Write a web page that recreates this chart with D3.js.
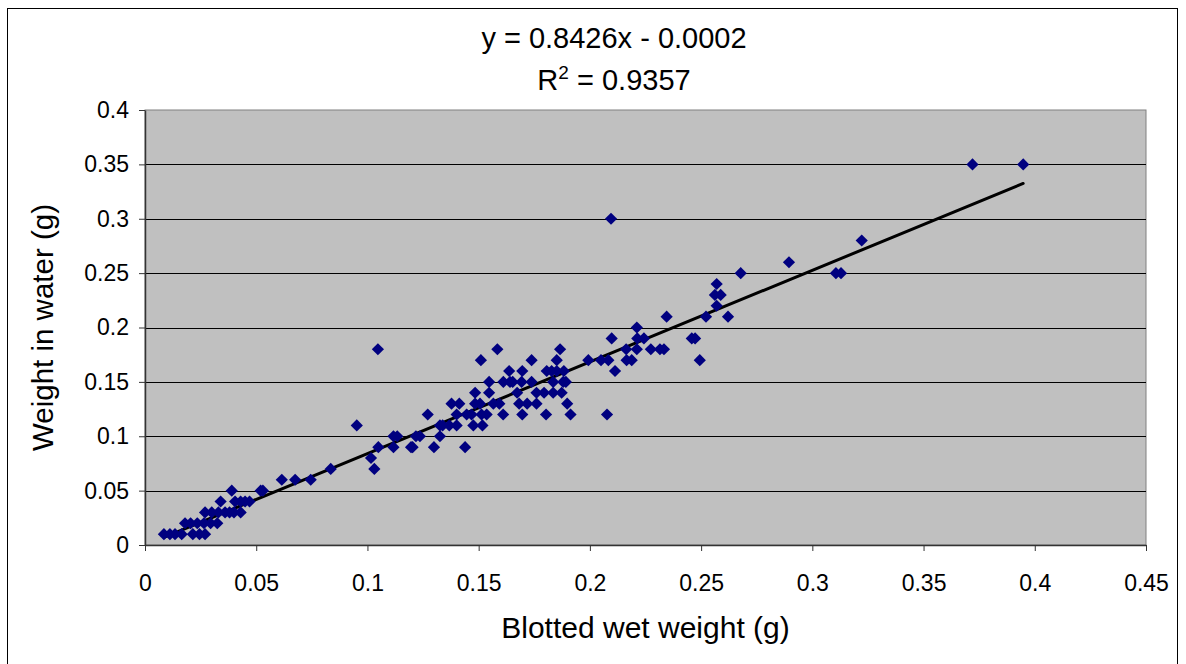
<!DOCTYPE html>
<html>
<head>
<meta charset="utf-8">
<script src="https://cdn.jsdelivr.net/npm/d3@7"></script>
<style>
  html, body { margin: 0; padding: 0; background: #ffffff; }
  svg { display: block; font-family: "Liberation Sans", Arial, sans-serif; }
</style>
</head>
<body>
<svg id="chart" width="1186" height="664"></svg>
<script>
// Data: blotted wet weight (g) and weight in water (g)
const blottedWet = [
  0.0085, 0.0112, 0.0135, 0.0165, 0.0215, 0.0245, 0.027,
  0.018, 0.0205, 0.0235, 0.0265, 0.0295, 0.0325,
  0.027, 0.030, 0.033, 0.036, 0.038, 0.040, 0.043,
  0.034, 0.0405, 0.043, 0.045, 0.047,
  0.039, 0.052, 0.053,
  0.0615, 0.0675, 0.0745,
  0.0835, 0.1031,
  0.1016,
  0.1049, 0.1117, 0.1196, 0.1203, 0.1299, 0.1439,
  0.1117, 0.1134, 0.1218, 0.1236, 0.1326,
  0.0952, 0.1326, 0.1338, 0.1368, 0.1401, 0.1476, 0.1517,
  0.1271, 0.1401, 0.1446, 0.1468, 0.1513, 0.1536, 0.161, 0.1696, 0.1803, 0.1913, 0.2077,
  0.1378, 0.1413, 0.1484, 0.1506, 0.1566, 0.1593, 0.1682, 0.1718, 0.176, 0.1898,
  0.1484, 0.1547, 0.1673, 0.176, 0.1794, 0.1835, 0.1873,
  0.1547, 0.1611, 0.1641, 0.1653, 0.1693, 0.1738, 0.1835, 0.188, 0.1892,
  0.1637, 0.1696, 0.1806, 0.1828, 0.1851, 0.1883, 0.2113,
  0.151, 0.1738, 0.1851, 0.1993, 0.205, 0.2083, 0.2165, 0.2188, 0.2494,
  0.1047, 0.1584, 0.1866, 0.2163, 0.2211, 0.2274, 0.2315, 0.2333,
  0.2098, 0.2213, 0.2243, 0.2458, 0.2473,
  0.2211,
  0.2345, 0.2522, 0.2621,
  0.257,
  0.2562, 0.2588,
  0.257,
  0.2678, 0.3106, 0.3129,
  0.2895,
  0.3222,
  0.2095,
  0.372, 0.3948
];
const weightInWater = [
  0.01, 0.01, 0.01, 0.01, 0.01, 0.01, 0.01,
  0.02, 0.02, 0.02, 0.02, 0.02, 0.02,
  0.03, 0.03, 0.03, 0.03, 0.03, 0.03, 0.03,
  0.04, 0.04, 0.04, 0.04, 0.04,
  0.05, 0.05, 0.05,
  0.06, 0.06, 0.06,
  0.07, 0.07,
  0.08,
  0.09, 0.09, 0.09, 0.09, 0.09, 0.09,
  0.10, 0.10, 0.10, 0.10, 0.10,
  0.11, 0.11, 0.11, 0.11, 0.11, 0.11, 0.11,
  0.12, 0.12, 0.12, 0.12, 0.12, 0.12, 0.12, 0.12, 0.12, 0.12, 0.12,
  0.13, 0.13, 0.13, 0.13, 0.13, 0.13, 0.13, 0.13, 0.13, 0.13,
  0.14, 0.14, 0.14, 0.14, 0.14, 0.14, 0.14,
  0.15, 0.15, 0.15, 0.15, 0.15, 0.15, 0.15, 0.15, 0.15,
  0.16, 0.16, 0.16, 0.16, 0.16, 0.16, 0.16,
  0.17, 0.17, 0.17, 0.17, 0.17, 0.17, 0.17, 0.17, 0.17,
  0.18, 0.18, 0.18, 0.18, 0.18, 0.18, 0.18, 0.18,
  0.19, 0.19, 0.19, 0.19, 0.19,
  0.20,
  0.21, 0.21, 0.21,
  0.22,
  0.23, 0.23,
  0.24,
  0.25, 0.25, 0.25,
  0.26,
  0.28,
  0.30,
  0.35, 0.35
];
// Trendline coefficients (as printed on the chart)
const slope = 0.8426;
const intercept = -0.0002;
const rSquared = 0.9357;
const xTickValues = [0, 0.05, 0.1, 0.15, 0.2, 0.25, 0.3, 0.35, 0.4, 0.45];
const yTickValues = [0, 0.05, 0.1, 0.15, 0.2, 0.25, 0.3, 0.35, 0.4];
const xTitle = "Blotted wet weight (g)";
const yTitle = "Weight in water (g)";

const points = blottedWet.map((x, i) => ({ x: x, y: weightInWater[i] }));

const svg = d3.select("#chart");
const plot = { left: 145, top: 110, right: 1146, bottom: 545 };

// Outer chart border
svg.append("rect")
  .attr("x", 7.5).attr("y", 8.5)
  .attr("width", 1170).attr("height", 670)
  .attr("fill", "#ffffff").attr("stroke", "#000000").attr("stroke-width", 1);

const x = d3.scaleLinear().domain([0, 0.45]).range([plot.left, plot.right]);
const y = d3.scaleLinear().domain([0, 0.4]).range([plot.bottom, plot.top]);

// Plot area background
svg.append("rect")
  .attr("x", plot.left).attr("y", plot.top)
  .attr("width", plot.right - plot.left).attr("height", plot.bottom - plot.top)
  .attr("fill", "#c0c0c0").attr("stroke", "#808080").attr("stroke-width", 1);

// Horizontal gridlines
svg.append("g")
  .selectAll("line")
  .data(yTickValues.filter(v => v > 0 && v < 0.4))
  .join("line")
  .attr("x1", plot.left).attr("x2", plot.right)
  .attr("y1", d => Math.round(y(d)) + 0.5).attr("y2", d => Math.round(y(d)) + 0.5)
  .attr("stroke", "#000000").attr("stroke-width", 1);

// Axes
const xAxis = d3.axisBottom(x).tickValues(xTickValues).tickFormat(d3.format("")).tickSizeInner(6).tickSizeOuter(0).tickPadding(24);
const yAxis = d3.axisLeft(y).tickValues(yTickValues).tickFormat(d3.format("")).tickSizeInner(6).tickSizeOuter(0).tickPadding(10);

const gx = svg.append("g").attr("transform", `translate(0,${plot.bottom})`).call(xAxis);
const gy = svg.append("g").attr("transform", `translate(${plot.left},0)`).call(yAxis);
[gx, gy].forEach(g => {
  g.select(".domain").attr("stroke", "#333333").attr("stroke-width", 1.5);
  g.selectAll(".tick line").attr("stroke", "#333333").attr("stroke-width", 1);
  g.selectAll(".tick text")
    .attr("fill", "#000000")
    .style("font-family", "'Liberation Sans', Arial, sans-serif")
    .style("font-size", "23px");
});
gx.selectAll(".tick text").attr("dy", "0.71em");

// Trendline
const xExt = d3.extent(blottedWet);
svg.append("line")
  .attr("x1", x(xExt[0])).attr("y1", y(slope * xExt[0] + intercept))
  .attr("x2", x(xExt[1])).attr("y2", y(slope * xExt[1] + intercept))
  .attr("stroke", "#000000").attr("stroke-width", 3).attr("stroke-linecap", "round");

// Points (diamonds)
const diamond = d3.symbol().type(d3.symbolDiamond2).size(95);
svg.append("g")
  .selectAll("path")
  .data(points)
  .join("path")
  .attr("d", diamond)
  .attr("transform", d => `translate(${x(d.x)},${y(d.y)})`)
  .attr("fill", "#000080");

// Title (trendline equation)
const title = svg.append("text")
  .attr("x", 614).attr("y", 48)
  .attr("text-anchor", "middle")
  .style("font-size", "29px").attr("fill", "#000");
title.text(`y = ${slope}x - ${Math.abs(intercept).toFixed(4)}`);

const r2 = svg.append("text")
  .attr("x", 614).attr("y", 90)
  .attr("text-anchor", "middle")
  .style("font-size", "29px").attr("fill", "#000");
r2.append("tspan").text("R");
r2.append("tspan").attr("dy", -11).style("font-size", "19px").text("2");
r2.append("tspan").attr("dy", 11).text(` = ${rSquared}`);

// Axis titles
svg.append("text")
  .attr("x", (plot.left + plot.right) / 2).attr("y", 638)
  .attr("text-anchor", "middle")
  .style("font-size", "30px").attr("fill", "#000")
  .text(xTitle);

svg.append("text")
  .attr("transform", `translate(53,${(plot.top + plot.bottom) / 2}) rotate(-90)`)
  .attr("text-anchor", "middle")
  .style("font-size", "29.5px").attr("fill", "#000")
  .text(yTitle);
</script>
</body>
</html>
